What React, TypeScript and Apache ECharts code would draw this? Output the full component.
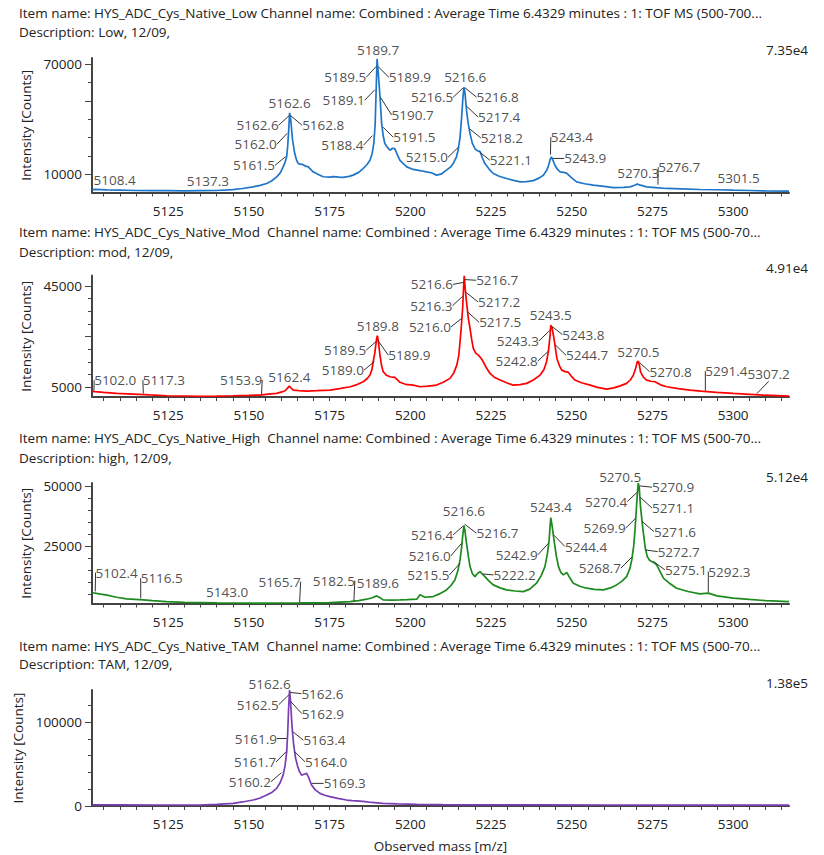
import React, { useEffect, useRef } from "react";
import * as echarts from "echarts";

// ---------- shared axis values ----------
const X_MIN = 5101.4;
const X_MAX = 5317.3;
const xTickValues = [
  5105, 5110, 5115, 5120, 5125, 5130, 5135, 5140, 5145, 5150, 5155, 5160, 5165, 5170, 5175,
  5180, 5185, 5190, 5195, 5200, 5205, 5210, 5215, 5220, 5225, 5230, 5235, 5240, 5245, 5250,
  5255, 5260, 5265, 5270, 5275, 5280, 5285, 5290, 5295, 5300, 5305, 5310, 5315,
];
const xLabelValues = [5125, 5150, 5175, 5200, 5225, 5250, 5275, 5300];

// ---------- panel texts ----------
const itemNames = [
  "Item name: HYS_ADC_Cys_Native_Low Channel name: Combined : Average Time 6.4329 minutes : 1: TOF MS (500-700...",
  "Item name: HYS_ADC_Cys_Native_Mod\u00a0\u00a0Channel name: Combined : Average Time 6.4329 minutes : 1: TOF MS (500-70...",
  "Item name: HYS_ADC_Cys_Native_High\u00a0\u00a0Channel name: Combined : Average Time 6.4329 minutes : 1: TOF MS (500-70...",
  "Item name: HYS_ADC_Cys_Native_TAM\u00a0\u00a0Channel name: Combined : Average Time 6.4329 minutes : 1: TOF MS (500-70...",
];
const descriptions = [
  "Description: Low, 12/09,",
  "Description: mod, 12/09,",
  "Description: high, 12/09,",
  "Description: TAM, 12/09,",
];
const maxIntensityLabels = ["7.35e4", "4.91e4", "5.12e4", "1.38e5"];

// ---------- y axes ----------
const yMins = [0, 1200, 1000, 0];
const yMaxs = [73500, 49100, 51200, 138000];
const lowYTicks = [10000, 20000, 30000, 40000, 50000, 60000, 70000];
const lowYLabels = [10000, 70000];
const lowYMajor = [10000, 50000, 70000];
const modYTicks = [5000, 10000, 15000, 20000, 25000, 30000, 35000, 40000, 45000];
const modYLabels = [5000, 45000];
const modYMajor = [5000, 25000, 45000];
const highYTicks = [5000, 10000, 15000, 20000, 25000, 30000, 35000, 40000, 45000, 50000];
const highYLabels = [25000, 50000];
const highYMajor = [25000, 50000];
const tamYTicks = [0, 20000, 40000, 60000, 80000, 100000, 120000];
const tamYLabels = [0, 100000];
const tamYMajor = [0, 100000];

// ---------- spectra [mass, intensity] ----------
const lowSpectrum = [
  [5101.5, 1500], [5102.3, 1700], [5106, 1400], [5110, 1300], [5115, 1100], [5120, 1000],
  [5125, 1000], [5130, 900], [5135, 1000], [5140, 1100], [5145, 1600], [5148, 2200],
  [5151.3, 3100], [5153.5, 3900], [5155.5, 4900], [5157, 6300], [5158.6, 8500], [5159.8, 11000],
  [5160.6, 14000], [5161.2, 16500], [5161.7, 19500], [5162.0, 25000], [5162.3, 33000],
  [5162.6, 43500], [5162.9, 41000], [5163.2, 35000], [5163.5, 29000], [5164.2, 21300],
  [5164.8, 17500], [5165.3, 15800], [5166.0, 15500], [5166.8, 15200], [5167.6, 14400],
  [5168.4, 14000], [5169.2, 12500], [5169.9, 11300], [5171.5, 9800], [5173, 8600], [5175, 8400],
  [5176.1, 8700], [5178, 8400], [5179.2, 8300], [5181, 8800], [5182.3, 9500], [5184, 11000],
  [5185.4, 13100], [5186.6, 15300], [5187.5, 17600], [5188.2, 21500], [5188.7, 27000],
  [5189.1, 37000], [5189.4, 55000], [5189.7, 73000], [5189.9, 69000], [5190.3, 60000],
  [5190.7, 50000], [5191.1, 38000], [5191.6, 31000], [5192.1, 26800], [5193, 24500],
  [5193.7, 23100], [5194.5, 24200], [5195.2, 24000], [5196, 20500], [5196.8, 17600],
  [5198, 15500], [5198.9, 14000], [5200.9, 12600], [5203, 12000], [5205, 11300], [5206.5, 10800],
  [5208.1, 9500], [5209.5, 10000], [5211.2, 12200], [5212.5, 14000], [5213.3, 15800],
  [5214.3, 19500], [5214.8, 23100], [5215.4, 30000], [5215.9, 41300], [5216.3, 52000],
  [5216.6, 57500], [5216.9, 55000], [5217.4, 45000], [5217.9, 38000], [5218.5, 32200],
  [5219.2, 27000], [5220, 24000], [5220.8, 22800], [5221.6, 22400], [5222.3, 19000],
  [5223.1, 15800], [5224.4, 12800], [5225.7, 10400], [5227.5, 8900], [5229.8, 7650],
  [5232, 6600], [5234, 5800], [5236, 5900], [5238.1, 6500], [5240, 8000], [5241.2, 9450],
  [5242.2, 12000], [5242.7, 14000], [5243.3, 18000], [5243.7, 19500], [5244.2, 17500],
  [5244.8, 14900], [5245.6, 12600], [5246.4, 11300], [5247.5, 11000], [5248.4, 10600],
  [5250, 8000], [5251.5, 5800], [5254, 4800], [5256.7, 4000], [5260, 3300], [5262.9, 2700],
  [5266, 2800], [5268, 3100], [5269.5, 4000], [5270.3, 4600], [5271.3, 4000], [5273.2, 3100],
  [5276, 2700], [5279.4, 2200], [5284, 2000], [5289.7, 1640], [5295, 1500], [5300, 1270],
  [5305, 1100], [5310, 900], [5317.3, 700],
];

const modSpectrum = [
  [5101.5, 3400], [5102.3, 3300], [5105, 3000], [5109, 2640], [5114.2, 2360], [5119.3, 2000],
  [5124.5, 1700], [5130, 1600], [5135, 1500], [5140, 1570], [5145, 1700], [5150, 1850],
  [5153.4, 1970], [5156, 2300], [5158.6, 2640], [5160.2, 3200], [5161.2, 3660], [5161.9, 4600],
  [5162.5, 5500], [5163, 4800], [5163.8, 3940], [5165.5, 3700], [5167.9, 3540], [5171, 3700],
  [5175.2, 3940], [5178, 4500], [5181.4, 5240], [5183.5, 6100], [5185.4, 7200], [5186.6, 8400],
  [5187.5, 9840], [5188.1, 12000], [5188.5, 15100], [5189.0, 18500], [5189.3, 21650],
  [5189.6, 24500], [5189.8, 25400], [5190.1, 23000], [5190.6, 17700], [5191.1, 13500],
  [5191.6, 11140], [5192.6, 9800], [5193.7, 9170], [5194.5, 9000], [5195.2, 8940], [5196, 8000],
  [5196.8, 7000], [5198.5, 6200], [5200.9, 5900], [5203, 5240], [5205.5, 5500], [5208.1, 5900],
  [5210.2, 7000], [5212.3, 8540], [5213.5, 10800], [5214.4, 13780], [5215, 17500],
  [5215.4, 22950], [5215.8, 29000], [5216.2, 36100], [5216.5, 44500], [5216.7, 49000],
  [5217.0, 44000], [5217.4, 38700], [5218, 32000], [5218.5, 28200], [5219.0, 24000],
  [5219.5, 20350], [5220.3, 18400], [5221.1, 17700], [5221.9, 16500], [5222.6, 15100],
  [5223.6, 12600], [5224.7, 10500], [5226, 9000], [5227.8, 7870], [5230, 6700], [5231.9, 5900],
  [5234, 6100], [5236, 6570], [5238, 7800], [5240.2, 9840], [5241.4, 12000], [5242.2, 15100],
  [5242.8, 19500], [5243.3, 25600], [5243.5, 29500], [5243.9, 28500], [5244.5, 24300],
  [5245, 20000], [5245.4, 16400], [5246.2, 13500], [5246.9, 11800], [5248, 11200],
  [5249, 10900], [5250, 9200], [5251, 7870], [5253, 6800], [5255.7, 5900], [5258, 5000],
  [5260.8, 4330], [5263, 4800], [5265, 5600], [5267, 6570], [5268.2, 8000], [5269.1, 9840],
  [5269.8, 12500], [5270.3, 15100], [5270.6, 15300], [5271.0, 13500], [5271.3, 11140],
  [5272.2, 9000], [5273.2, 7870], [5274.5, 7400], [5275.8, 7200], [5277.5, 6000],
  [5279.4, 5240], [5283, 4500], [5286.6, 3940], [5290, 3500], [5294.9, 3030], [5300, 2600],
  [5305.2, 2240], [5310, 1900], [5317.3, 1570],
];

const highSpectrum = [
  [5101.5, 5600], [5102.3, 5290], [5104, 4900], [5105.7, 4580], [5109, 3600], [5112.1, 2920],
  [5117.3, 2500], [5120, 2200], [5124.5, 1790], [5130, 1500], [5134.8, 1380], [5140, 1250],
  [5145, 1200], [5150.3, 1120], [5155, 1150], [5160, 1200], [5165.8, 1250], [5170, 1300],
  [5175, 1400], [5181.3, 1790], [5184, 2200], [5186.5, 2790], [5188, 3300], [5189.6, 4170],
  [5190.5, 3500], [5191.6, 2500], [5194, 2400], [5196.8, 2500], [5199, 2600], [5202, 2790],
  [5203, 4600], [5204.5, 3600], [5207.1, 3880], [5209, 5000], [5211.2, 6670], [5212.6, 8500],
  [5213.8, 10830], [5214.7, 14500], [5215.4, 19170], [5215.9, 24500], [5216.2, 28880],
  [5216.6, 33500], [5216.9, 31500], [5217.4, 26120], [5218, 20500], [5218.5, 16380],
  [5219.2, 13500], [5220, 12210], [5220.8, 13500], [5221.6, 14290], [5222.3, 13300],
  [5223.1, 12210], [5224.4, 10300], [5225.7, 8750], [5227.8, 7500], [5229.8, 6670],
  [5232.5, 6200], [5235, 5960], [5237, 7000], [5239.1, 9460], [5240.5, 12500], [5241.7, 16380],
  [5242.5, 22000], [5243, 27500], [5243.5, 36800], [5243.9, 33500], [5244.5, 27500],
  [5245.2, 21000], [5245.9, 16380], [5246.6, 14000], [5247.4, 12920], [5248.5, 13880],
  [5249.5, 11500], [5250.5, 9460], [5252.5, 8200], [5254.6, 7370], [5257, 6900], [5259.8, 6670],
  [5262, 7500], [5263.9, 8750], [5265.5, 10200], [5267, 12210], [5268, 15500], [5268.6, 19170],
  [5269.2, 25000], [5269.6, 31670], [5270.0, 40000], [5270.3, 46250], [5270.6, 51200],
  [5270.9, 49500], [5271.3, 41380], [5271.8, 35000], [5272.2, 30290], [5272.8, 24000],
  [5273.4, 20540], [5274.1, 19000], [5274.8, 18460], [5275.5, 18000], [5276.3, 17080],
  [5277.3, 14500], [5278.4, 11540], [5280.5, 9200], [5282.5, 7370], [5286, 6000],
  [5289.7, 5000], [5292.3, 5300], [5295, 4200], [5300, 3210], [5305, 2700], [5310, 2200],
  [5317.3, 1790],
];

const tamSpectrum = [
  [5101.5, 1500], [5110, 1300], [5120, 1200], [5130, 1200], [5134.8, 1190], [5140, 1900],
  [5145.1, 3200], [5148, 4800], [5151.3, 7100], [5153.5, 9500], [5155.5, 13000],
  [5157.2, 16500], [5158.6, 21000], [5159.7, 28000], [5160.6, 36800], [5161.2, 48000],
  [5161.7, 64400], [5162.0, 85000], [5162.3, 115900], [5162.6, 138000], [5162.9, 125000],
  [5163.2, 104000], [5163.5, 88000], [5163.9, 72300], [5164.4, 58000], [5165, 48600],
  [5165.6, 41500], [5166.3, 36800], [5167.1, 37800], [5167.9, 38800], [5168.5, 34000],
  [5169.4, 24900], [5170.5, 19500], [5172, 15000], [5173.5, 12800], [5175.1, 11100],
  [5177.5, 9000], [5180.3, 7100], [5182, 6500], [5184.4, 5900], [5186, 5200], [5188, 4200],
  [5191.6, 3200], [5196, 2600], [5202, 2000], [5210, 1600], [5220, 1400], [5240, 1300],
  [5260, 1200], [5280, 1100], [5300, 1100], [5317.3, 1100],
];

// ---------- peak annotations [mass, intensity at anchor] ----------
const lowPeaks = [
  [5108.4, 1800], [5137.3, 1300], [5161.5, 19800], [5162.0, 32600], [5162.6, 42200],
  [5162.6, 43500], [5162.8, 42200], [5188.4, 31300], [5189.1, 56300], [5189.5, 69000],
  [5189.7, 73000], [5189.9, 69000], [5190.7, 52200], [5191.5, 35800], [5215.0, 24900],
  [5216.5, 57400], [5216.6, 57500], [5216.8, 57400], [5217.4, 47200], [5218.2, 35000],
  [5221.1, 22700], [5243.4, 20400], [5243.9, 18600], [5270.3, 4500], [5276.7, 4000],
  [5301.5, 1800],
];
const modPeaks = [
  [5102.0, 3500], [5117.3, 2360], [5153.9, 2000], [5162.4, 5510], [5189.0, 15300],
  [5189.5, 23200], [5189.8, 25200], [5189.9, 23600], [5216.6, 46400], [5216.7, 47500],
  [5216.3, 41000], [5217.2, 42500], [5216.0, 32300], [5217.5, 35000], [5243.5, 29500],
  [5243.3, 27600], [5243.8, 29100], [5242.8, 19300], [5244.7, 22000], [5270.5, 15300],
  [5270.8, 15000], [5291.4, 3500], [5307.2, 2360],
];
const highPeaks = [
  [5102.4, 5830], [5116.5, 2920], [5143.0, 1380], [5165.7, 1250], [5182.5, 1790],
  [5189.6, 4170], [5215.5, 17900], [5216.0, 26250], [5216.4, 33330], [5216.6, 33750],
  [5216.7, 34170], [5222.2, 13330], [5242.9, 26250], [5243.4, 36800], [5244.4, 29600],
  [5268.7, 20420], [5269.9, 36670], [5270.4, 47500], [5270.5, 50400], [5270.9, 50000],
  [5271.1, 45420], [5271.6, 35420], [5272.7, 23330], [5275.1, 18750], [5292.3, 5420],
];
const tamPeaks = [
  [5162.6, 137800], [5162.6, 135200], [5162.5, 132800], [5162.9, 124500], [5161.9, 80300],
  [5163.4, 88950], [5161.7, 65200], [5164.0, 65200], [5160.2, 40000], [5169.3, 26900],
];

// ---------- label layout: [dx, dy, leader line 1/0] (pixels, layout only) ----------
const lowLabelLayout = [
  [0, -9, 0], [0, -9, 0], [-32, 9, 1], [-32, 11.6, 1], [-32, 10, 1], [0, -9.5, 0], [33, 10, 1],
  [-30.5, 10, 1], [-31.5, 10.7, 1], [-31.2, 11, 1], [1, -9, 0], [32.2, 11, 1], [32.4, 18, 1],
  [31.5, 10.3, 1], [-31.8, 10.3, 1], [-31.4, 9.7, 1], [1.3, -10, 0], [33.1, 9.7, 1],
  [32.7, 11, 1], [32.8, 9.4, 1], [32.5, 9.3, 1], [21.5, -18, 1], [33.2, 0, 1], [1, -11, 0],
  [21.3, -18, 1], [0.6, -11, 0],
];
const modLabelLayout = [
  [21.3, -11, 1], [20.6, -14, 1], [-20.3, -15, 1], [0.4, -9, 0], [-32, 9, 1], [-31.3, 9, 1],
  [0.4, -10, 0], [31.7, 15, 1], [-32, 2, 1], [33, 0.7, 1], [-31.5, 9.7, 1], [33.3, 9.7, 1],
  [-32, 8.7, 1], [33.4, 11, 1], [0, -10.7, 0], [-32.3, 11, 1], [31.7, 8.3, 1], [-31.8, 10, 1],
  [32.5, 11, 1], [0.4, -9.3, 0], [31.8, 9.7, 1], [21, -20, 1], [12.3, -19.7, 1],
];
const highLabelLayout = [
  [21.4, -19.3, 1], [21, -20.7, 1], [0.9, -11, 0], [-20, -21.3, 1], [-20, -21, 1],
  [1.2, -12.7, 0], [-32, 12, 1], [-32.2, 13, 1], [-31.2, 9, 1], [0, -14.3, 0], [33.3, 9.3, 1],
  [32.6, 1, 1], [-32.1, 12, 1], [0.6, -10.4, 0], [32.4, 11.7, 1], [-32.3, 11.3, 1],
  [-31.4, 10.3, 1], [-31.4, 9.7, 1], [-17.7, -8.3, 0], [33.9, 1.3, 1], [33.3, 11.3, 1],
  [33.5, 10.7, 1], [33.7, 1.7, 1], [33.2, 9, 1], [21.1, -21.3, 1],
];
const tamLabelLayout = [
  [-20, -5.7, 0], [32.9, 1.3, 1], [-31.5, 10.3, 1], [32.4, 12.3, 1], [-31.4, 0, 1],
  [32.3, 9, 1], [-31.6, 10.7, 1], [32.1, 10.7, 1], [-32, 9.4, 1], [33.5, 0, 1],
];

const FONT = '"Open Sans", "Segoe UI", sans-serif';
const FS = 13.5;
const TEXT = "#222";
const AXIS = "#444";

export default function App() {
  const ref = useRef<HTMLDivElement>(null);

  useEffect(() => {
    if (!ref.current) return;
    const chart = echarts.init(ref.current, undefined, { renderer: "svg" });

    const panels = [
      { spectrum: lowSpectrum, peaks: lowPeaks, layout: lowLabelLayout, color: "#1f76c9",
        ticks: lowYTicks, labels: lowYLabels, major: lowYMajor, top: 58, height: 134.5 },
      { spectrum: modSpectrum, peaks: modPeaks, layout: modLabelLayout, color: "#ff0000",
        ticks: modYTicks, labels: modYLabels, major: modYMajor, top: 275.5, height: 121.5 },
      { spectrum: highSpectrum, peaks: highPeaks, layout: highLabelLayout, color: "#1c8a1c",
        ticks: highYTicks, labels: highYLabels, major: highYMajor, top: 483, height: 120.5 },
      { spectrum: tamSpectrum, peaks: tamPeaks, layout: tamLabelLayout, color: "#7a3db3",
        ticks: tamYTicks, labels: tamYLabels, major: tamYMajor, top: 690, height: 116 },
    ];
    const titleY = [[12.7, 31.7], [232.3, 251.7], [438.3, 457.7], [645.7, 664.3]];
    const maxY = [50, 268.3, 476.7, 682.7];
    const plain = (v: number) => String(v);

    const grid = panels.map((p) => ({ left: 92, width: 697, top: p.top, height: p.height }));

    const xAxis = panels.map((p, i) => ({
      type: "value",
      gridIndex: i,
      min: X_MIN,
      max: X_MAX,
      axisLine: { show: true, lineStyle: { color: AXIS, width: 2 } },
      axisTick: { show: true, customValues: xTickValues, length: 4, lineStyle: { color: AXIS, width: 1 } },
      axisLabel: { show: true, customValues: xLabelValues, formatter: plain, margin: 11, color: TEXT, fontSize: FS, fontFamily: FONT },
      splitLine: { show: false },
      name: i === 3 ? "Observed mass [m/z]" : "",
      nameLocation: "middle",
      nameGap: 33,
      nameTextStyle: { color: TEXT, fontSize: FS, fontFamily: FONT },
    }));

    const yMain = panels.map((p, i) => ({
      type: "value",
      gridIndex: i,
      position: "left",
      min: yMins[i],
      max: yMaxs[i],
      axisLine: { show: true, lineStyle: { color: AXIS, width: 2 } },
      axisTick: { show: true, customValues: p.ticks, length: 4, lineStyle: { color: AXIS, width: 1 } },
      axisLabel: { show: true, customValues: p.labels, formatter: plain, margin: 10, color: TEXT, fontSize: FS, fontFamily: FONT },
      splitLine: { show: false },
      name: "Intensity [Counts]",
      nameLocation: "middle",
      nameGap: 58,
      nameTextStyle: { color: TEXT, fontSize: FS, fontFamily: FONT },
    }));
    const yMajor = panels.map((p, i) => ({
      type: "value",
      gridIndex: i,
      position: "left",
      offset: 0,
      min: yMins[i],
      max: yMaxs[i],
      axisLine: { show: false },
      axisTick: { show: true, customValues: p.major, length: 7, lineStyle: { color: AXIS, width: 1 } },
      axisLabel: { show: false },
      splitLine: { show: false },
    }));

    const series: any[] = [];
    panels.forEach((p, i) => {
      series.push({
        type: "line",
        xAxisIndex: i,
        yAxisIndex: i,
        data: p.spectrum,
        symbol: "none",
        showSymbol: false,
        silent: true,
        lineStyle: { color: p.color, width: 1.7 },
        z: 2,
      });
      const layout = p.layout;
      series.push({
        type: "scatter",
        xAxisIndex: i,
        yAxisIndex: i,
        symbol: "circle",
        symbolSize: 1,
        silent: true,
        itemStyle: { color: "rgba(0,0,0,0)" },
        data: p.peaks.map((pk, k) => ({
          value: pk,
          labelLine: { show: layout[k][2] === 1 },
        })),
        label: {
          show: true,
          position: "inside",
          align: "center",
          verticalAlign: "middle",
          formatter: (params: any) => Number(params.value[0]).toFixed(1),
          color: TEXT,
          fontSize: FS,
          fontFamily: FONT,
        },
        labelLine: { show: true, lineStyle: { color: "#333", width: 1 } },
        labelLayout: (params: any) => ({
          dx: layout[params.dataIndex][0],
          dy: layout[params.dataIndex][1],
        }),
        z: 5,
      });
    });

    const graphic: any[] = [];
    panels.forEach((_, i) => {
      graphic.push({
        type: "text",
        x: 19,
        y: titleY[i][0],
        silent: true,
        style: { text: itemNames[i], fill: TEXT, fontSize: FS, fontFamily: FONT, verticalAlign: "middle", align: "left" },
      });
      graphic.push({
        type: "text",
        x: 19,
        y: titleY[i][1],
        silent: true,
        style: { text: descriptions[i], fill: TEXT, fontSize: FS, fontFamily: FONT, verticalAlign: "middle", align: "left" },
      });
      graphic.push({
        type: "text",
        x: 808,
        y: maxY[i],
        silent: true,
        style: { text: maxIntensityLabels[i], fill: TEXT, fontSize: FS, fontFamily: FONT, verticalAlign: "middle", align: "right" },
      });
    });

    chart.setOption({
      animation: false,
      backgroundColor: "#ffffff",
      textStyle: { fontFamily: FONT },
      grid,
      xAxis,
      yAxis: [...yMain, ...yMajor],
      series,
      graphic,
    });

    return () => chart.dispose();
  }, []);

  return (
    <div
      ref={ref}
      style={{ position: "fixed", left: 0, top: 0, width: 824, height: 855, background: "#fff" }}
    />
  );
}
